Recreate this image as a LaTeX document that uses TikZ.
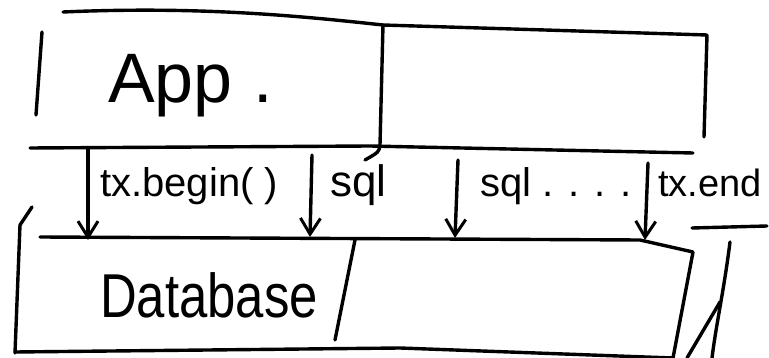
\documentclass[tikz,border=0pt]{standalone}
\usepackage{fontspec}
\setmainfont{Liberation Sans}
\usetikzlibrary{arrows.meta}
\begin{document}
\begin{tikzpicture}[x=1pt,y=-1pt,
  stroke/.style={line width=3.4pt, line cap=round, line join=round},
  flow/.style={stroke, -{Straight Barb[length=16pt,width=20pt,line width=3pt]}},
  lbl/.style={inner sep=0pt, font=\fontsize{40}{44}\selectfont},
  big/.style={inner sep=0pt, font=\fontsize{70}{76}\selectfont}]
\useasboundingbox (0,0) rectangle (769,358);
% App layer
\draw[stroke] (63,12) .. controls (200,6) and (300,16) .. (383,25) -- (707,35) -- (704,137);
\draw[stroke] (42,32) -- (36,115);
\draw[stroke] (383,25) -- (380,145) .. controls (379,152) .. (365,160);
\draw[stroke] (30,148) -- (370,146) -- (693,153);
% Database layer
\draw[stroke] (40,237) -- (640,240) -- (693,252) -- (673,358);
\draw[stroke] (20,225) -- (15,353);
\draw[stroke] (20,225) -- (32,207);
\draw[stroke] (15,352) -- (400,348) -- (673,358);
\draw[stroke] (355,240) -- (335,340);
\draw[stroke] (730,242) .. controls (724,290) and (716,325) .. (712,358);
\draw[stroke] (687,358) -- (720,302);
% texts
\node[big, anchor=base west] (app) at (108,103) {App\hspace{0.3em}.};
\node[inner sep=0pt, anchor=base west, font=\fontsize{62}{68}\selectfont] (db) at (100,317) {\scalebox{0.82}[1]{Database}};
\node[lbl, anchor=base west] (lbegin) at (100,197) {tx.begin( )};
\node[lbl, anchor=base west, font=\fontsize{44}{48}\selectfont] (lsqlone) at (330,197) {sql};
\node[lbl, anchor=base west] (lsqltwo) at (480,197) {sql . . . .};
\node[lbl, anchor=base west, font=\fontsize{38}{42}\selectfont] (lend) at (658,197) {tx.end};
\draw[stroke] (692,228) -- (767,226);
% arrows
\coordinate (sa) at (88,148);  \coordinate (ea) at (88,240);
\coordinate (sb) at (312,155); \coordinate (eb) at (310,237);
\coordinate (sc) at (458,160); \coordinate (ec) at (455,238);
\coordinate (sd) at (648,163); \coordinate (ed) at (645,240);
\draw[flow] (sa) -- (ea);
\draw[flow] (sb) -- (eb);
\draw[flow] (sc) -- (ec);
\draw[flow] (sd) -- (ed);
\end{tikzpicture}
\end{document}
